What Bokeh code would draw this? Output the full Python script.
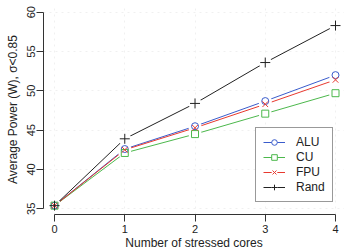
from bokeh.plotting import figure
from bokeh.models import Range1d, Legend, LegendItem, FixedTicker
from bokeh.embed import file_html
from bokeh.resources import INLINE

cores = [0, 1, 2, 3, 4]
alu = [35.4, 42.6, 45.5, 48.7, 52.0]
cu = [35.4, 42.1, 44.5, 47.1, 49.7]
fpu = [35.4, 42.5, 45.3, 48.3, 51.4]
rand = [35.4, 43.9, 48.4, 53.6, 58.3]
x_ticks = [0, 1, 2, 3, 4]
y_ticks = [35, 40, 45, 50, 55, 60]
x_title = "Number of stressed cores"
y_title = "Average Power (W), σ<0.85"

FONT = "Liberation Sans"

p = figure(width=344, height=252, output_backend="svg", toolbar_location=None,
           x_range=Range1d(-0.157, 4.128), y_range=Range1d(34.275, 60.98),
           min_border_left=43, min_border_bottom=38, min_border_top=4, min_border_right=0)
p.outline_line_color = None
p.background_fill_color = "white"

for ax, ticks in ((p.xaxis[0], x_ticks), (p.yaxis[0], y_ticks)):
    ax.ticker = FixedTicker(ticks=ticks)
    ax.bounds = (ticks[0], ticks[-1])
    ax.major_tick_out = 7
    ax.major_tick_in = 0
    ax.minor_tick_out = 0
    ax.minor_tick_in = 0
    ax.axis_line_color = "#333333"
    ax.major_tick_line_color = "#333333"
    ax.major_label_text_font = FONT
    ax.major_label_text_font_size = "11px"
    ax.major_label_text_color = "#222222"
    ax.axis_label_text_font = FONT
    ax.axis_label_text_font_size = "12px"
    ax.axis_label_text_font_style = "normal"
    ax.axis_label_text_color = "#222222"

p.xaxis.axis_label = x_title
p.yaxis.axis_label = y_title
p.xaxis.major_label_standoff = 3
p.xaxis.axis_label_standoff = 0
p.yaxis.major_label_standoff = 1
p.yaxis.axis_label_standoff = 5
p.yaxis.major_label_orientation = "vertical"

for g in (p.xgrid[0], p.ygrid[0]):
    g.grid_line_color = "#f0f0f0"
    g.grid_line_dash = "dotted"
    g.grid_line_width = 1

series = [
    ("ALU", alu, "#3a5ccc", "circle", 7),
    ("CU", cu, "#4cb84c", "square", 7),
    ("FPU", fpu, "#e8392f", "x", 8),
    ("Rand", rand, "#222222", "cross", 10),
]

lines, masks, marks = [], [], []
for name, ys, col, mk, sz in series:
    lines.append(p.line(cores, ys, line_color=col, line_width=1))
for name, ys, col, mk, sz in series:
    masks.append(p.scatter(cores, ys, marker="circle", size=13,
                           fill_color="white", line_color=None))
for name, ys, col, mk, sz in series:
    marks.append(p.scatter(cores, ys, marker=mk, size=sz, fill_color=None,
                           line_color=col, line_width=1))

items = [LegendItem(label=s[0], renderers=[lines[i], masks[i], marks[i]])
         for i, s in enumerate(series)]
legend = Legend(items=items, location=(212, 12))
legend.label_text_font = FONT
legend.label_text_font_size = "12px"
legend.label_text_color = "#222222"
legend.glyph_width = 22
legend.glyph_height = 14
legend.label_standoff = 11
legend.label_height = 14
legend.spacing = 1
legend.padding = 7
legend.margin = 0
legend.border_line_color = "#333333"
legend.border_line_width = 1
legend.background_fill_color = "white"
legend.background_fill_alpha = 1
p.add_layout(legend, "center")

open("out.html", "w").write(file_html(p, INLINE))
